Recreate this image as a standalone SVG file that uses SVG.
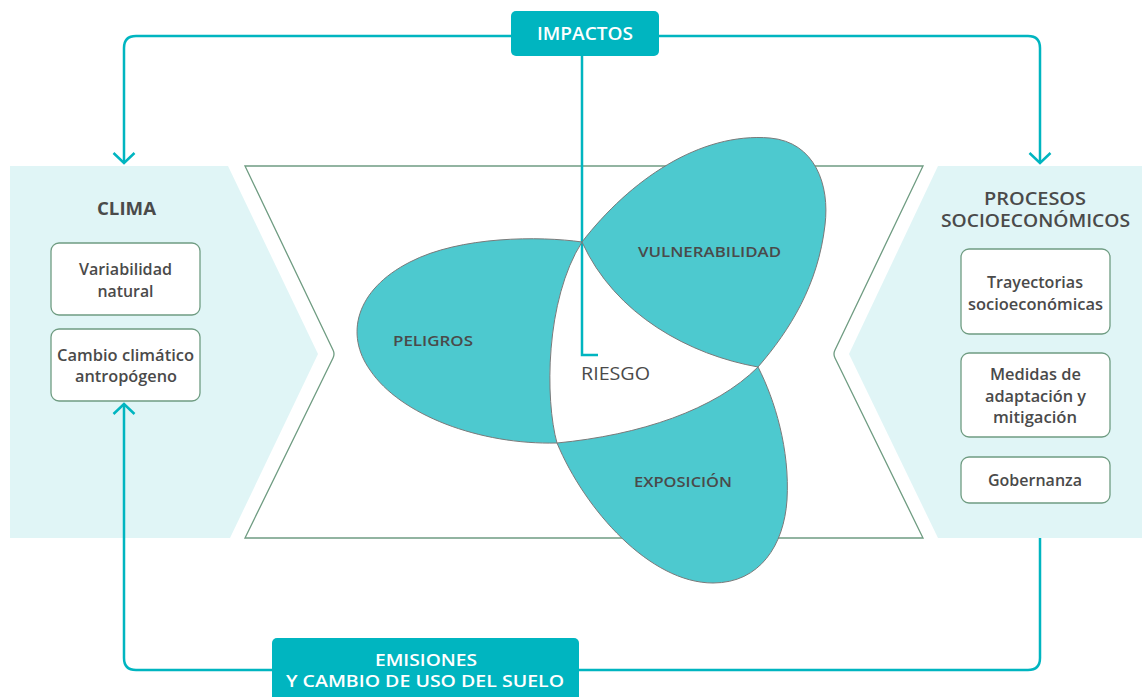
<svg xmlns="http://www.w3.org/2000/svg" width="1142" height="697" viewBox="0 0 1142 697">
<style>
.panel{fill:#e0f5f6;stroke:none}
.frame{fill:none;stroke:#6f9c82;stroke-width:1.3}
.lobe{fill:#4dc9cf;stroke:#7a7a7a;stroke-width:1}
.box{fill:#ffffff;stroke:#6f9c82;stroke-width:1.3}
.conn{fill:none;stroke:#00b5c0;stroke-width:2.5}
.tbox{fill:#00b5c0}
.t{font-family:"Open Sans","Liberation Sans",sans-serif;fill:#4a4a4a;text-anchor:middle}
.tw{font-family:"Open Sans","Liberation Sans",sans-serif;fill:#ffffff;text-anchor:middle;font-size:17.5px;font-weight:600}
.tw2{font-size:16px}
.lbl{font-family:"Open Sans","Liberation Sans",sans-serif;fill:#4a4a4a;font-size:15px;font-weight:600}
.bt{font-size:15.5px;font-weight:600}
.hd{font-size:17.5px;font-weight:700}
</style>
<defs>
<marker id="chev" viewBox="0 0 24 24" refX="20" refY="12" markerWidth="24" markerHeight="24" markerUnits="userSpaceOnUse" orient="auto">
<polyline points="10,1.5 20,12 10,22.5" fill="none" stroke="#00b5c0" stroke-width="2.5"/>
</marker>
</defs>

<g id="panels">
<polygon class="panel" points="10,166 228,166 318,354 230,538 10,538"/>
<polygon class="panel" points="938,166 1142,166 1142,538 938,538 849,354"/>
<path class="frame" d="M245,166 L923,166 L835,350 Q833,354 835,358 L923,538 L245,538 L333,358 Q335,354 333,350 Z"/>
</g>

<g id="connectors">
<path class="conn" d="M511,36 L136,36 Q124,36 124,48 L124,163" marker-end="url(#chev)"/>
<path class="conn" d="M659,36 L1028,36 Q1040,36 1040,48 L1040,163" marker-end="url(#chev)"/>
<path class="conn" d="M582,56 L582,355 L598,355"/>
<path class="conn" d="M1040,538 L1040,658 Q1040,670 1028,670 L136,670 Q124,670 124,658 L124,404" marker-end="url(#chev)"/>
</g>

<g id="peligros">
<path class="lobe" d="M582,242 C540,236 460,236 410,262 C355,290 345,335 370,370 C400,415 480,445 557,443 C545,400 545,300 582,242 Z"/>
<text class="lbl" x="393" y="346" textLength="80" lengthAdjust="spacingAndGlyphs">PELIGROS</text>
</g>
<g id="vulnerabilidad">
<path class="lobe" d="M582,242 C630,180 700,132 770,138 C815,142 830,185 825,225 C818,285 790,330 758,367 C690,355 615,315 582,242 Z"/>
<text class="lbl" x="638" y="257" textLength="143" lengthAdjust="spacingAndGlyphs">VULNERABILIDAD</text>
</g>
<g id="exposicion">
<path class="lobe" d="M758,367 C775,400 790,450 787,500 C784,545 760,583 713,583 C650,583 585,510 557,443 C640,435 715,410 758,367 Z"/>
<text class="lbl" x="634" y="487" textLength="98" lengthAdjust="spacingAndGlyphs">EXPOSICIÓN</text>
</g>
<g id="riesgo">
<text class="t" x="615.5" y="380" style="font-size:18px;font-weight:400" textLength="69" lengthAdjust="spacingAndGlyphs">RIESGO</text>
</g>

<g id="impactos">
<rect class="tbox" x="511" y="11" width="148" height="45" rx="5"/>
<text class="tw" x="585" y="40" textLength="96" lengthAdjust="spacingAndGlyphs">IMPACTOS</text>
</g>
<g id="emisiones">
<rect class="tbox" x="272" y="638" width="307" height="70" rx="5"/>
<text class="tw tw2" x="426" y="666" textLength="102" lengthAdjust="spacingAndGlyphs">EMISIONES</text>
<text class="tw tw2" x="425" y="687" textLength="278" lengthAdjust="spacingAndGlyphs">Y CAMBIO DE USO DEL SUELO</text>
</g>

<g id="clima">
<text class="t hd" x="126.5" y="215" textLength="59" lengthAdjust="spacingAndGlyphs">CLIMA</text>
</g>
<g id="variabilidad">
<rect class="box" x="51" y="243" width="149" height="72" rx="8"/>
<text class="t bt" x="125.5" y="275" textLength="93" lengthAdjust="spacingAndGlyphs">Variabilidad</text>
<text class="t bt" x="125.5" y="297" textLength="56" lengthAdjust="spacingAndGlyphs">natural</text>
</g>
<g id="cambio">
<rect class="box" x="51" y="329" width="149" height="72" rx="8"/>
<text class="t bt" x="125.5" y="361" textLength="137" lengthAdjust="spacingAndGlyphs">Cambio climático</text>
<text class="t bt" x="126" y="382" textLength="102" lengthAdjust="spacingAndGlyphs">antropógeno</text>
</g>

<g id="procesos">
<text class="t hd" x="1035" y="205" style="font-weight:600" textLength="102" lengthAdjust="spacingAndGlyphs">PROCESOS</text>
<text class="t hd" x="1035.5" y="227" style="font-weight:600" textLength="189" lengthAdjust="spacingAndGlyphs">SOCIOECONÓMICOS</text>
</g>
<g id="trayectorias">
<rect class="box" x="961" y="249" width="149" height="85" rx="8"/>
<text class="t bt" x="1035" y="288" textLength="96" lengthAdjust="spacingAndGlyphs">Trayectorias</text>
<text class="t bt" x="1035.5" y="310" textLength="135" lengthAdjust="spacingAndGlyphs">socioeconómicas</text>
</g>
<g id="medidas">
<rect class="box" x="961" y="353" width="149" height="84" rx="8"/>
<text class="t bt" x="1035.5" y="380" textLength="91" lengthAdjust="spacingAndGlyphs">Medidas de</text>
<text class="t bt" x="1035.5" y="402" textLength="101" lengthAdjust="spacingAndGlyphs">adaptación y</text>
<text class="t bt" x="1035" y="423" textLength="84" lengthAdjust="spacingAndGlyphs">mitigación</text>
</g>
<g id="gobernanza">
<rect class="box" x="961" y="457" width="149" height="46" rx="8"/>
<text class="t bt" x="1035" y="486" textLength="94" lengthAdjust="spacingAndGlyphs">Gobernanza</text>
</g>
</svg>
